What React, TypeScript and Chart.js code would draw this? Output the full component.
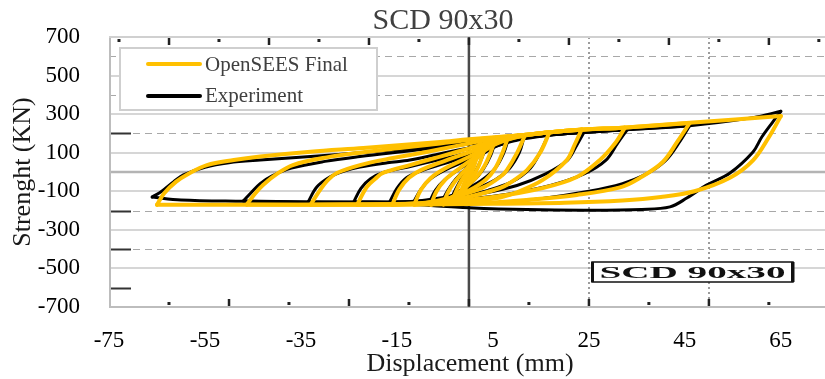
import React, { useEffect, useRef } from "react";
import { Chart, registerables } from "chart.js";

Chart.register(...registerables);

type Pt = [number, number];

// ---------- texts ----------
const chartTitle = "SCD 90x30";
const xAxisTitle = "Displacement (mm)";
const yAxisTitle = "Strenght (KN)";
const simLabel = "OpenSEES Final";
const expLabel = "Experiment";
const boxLabel = "SCD 90x30";

// ---------- axes ----------
const xMin = -75;
const xMax = 74.2;
const yMin = -700;
const yMax = 700;
const xTicks = [-75, -55, -35, -15, 5, 25, 45, 65];
const yTicks = [-700, -500, -300, -100, 100, 300, 500, 700];
const solidGridY = [700, 500, 300, 100, 0, -100, -300, -500];
const dashedGridY = [600, 400, 200, -200, -400];
const darkLeftMarksY = [200, -200, -400, -600];
const dottedGridX = [25, 50];
const topMarkStep = 125 / 12;
const bottomMarkStep = 12.5;

// ---------- OpenSEES Final (model) ----------
const simUp65: Pt[] = [[-65, -170], [-63.5, -110], [-61, -50], [-58.5, -10], [-54.6, 36], [-49, 62], [-43.5, 80], [-33, 105], [-22, 124], [-14, 140], [-6, 156], [0, 170], [8, 185], [12, 193], [17, 206], [24, 220], [32, 230], [46, 255], [65, 290]];
const simDown65: Pt[] = [[65, 290], [62.5, 180], [59.2, 60], [54.4, -30], [47, -100], [40, -130], [32, -148], [20, -160], [5, -165], [-15, -168], [-40, -170], [-65, -170]];
const simUp46: Pt[] = [[-46.3, -169], [-44.5, -110], [-42.9, -67], [-40, -10], [-36.7, 36], [-29.6, 76], [-22.7, 100], [-14.4, 124], [-6, 148], [0, 166], [8, 184], [12, 193], [17, 206], [24, 220], [32, 230], [46, 254]];
const simDown46: Pt[] = [[46, 254], [43.5, 160], [40.4, 52], [35.6, -31], [31.5, -80], [22.5, -119], [12, -145], [5, -158], [-5, -166], [-25, -169], [-46.3, -169]];
const simUp33: Pt[] = [[-33, -170], [-31, -93], [-29.5, -45], [-27.5, -5], [-22.7, 36], [-15.8, 73], [-12.3, 88], [-6, 118], [0, 148], [5, 172], [9, 186], [12, 193], [17, 206], [24, 220], [32.5, 230]];
const simDown33: Pt[] = [[32.5, 230], [30.5, 150], [27.3, 62], [22.5, -26], [15.4, -83], [5, -130], [-5, -155], [-15, -166], [-33, -170]];
const simUp23: Pt[] = [[-23.3, -170], [-21.3, -78], [-19.5, -35], [-17.9, -5], [-12.3, 36], [-6, 80], [0, 122], [5, 158], [9, 182], [12, 193], [17, 206], [23.5, 221]];
const simDown23: Pt[] = [[23.5, 221], [22, 140], [20.4, 62], [15.4, -41], [10, -105], [6.5, -132], [0, -152], [-8, -164], [-23.3, -170]];
const simUp16: Pt[] = [[-16, -170], [-14.5, -90], [-12.5, -30], [-10, 10], [-5, 58], [0, 102], [5, 146], [9, 176], [12, 191], [16.8, 207]];
const simDown16: Pt[] = [[16.8, 207], [14.8, 98], [12.1, 10], [8.5, -57], [6.5, -83], [0, -128], [-8, -157], [-16, -170]];
const simUp12: Pt[] = [[-11.4, -170], [-10, -92], [-8, -32], [-5, 18], [0, 78], [4, 128], [8, 168], [11.7, 192]];
const simDown12: Pt[] = [[11.7, 192], [10, 98], [7.9, 10], [6.5, -26], [3, -80], [-2, -122], [-7, -152], [-11.4, -170]];
const simUp8: Pt[] = [[-7.9, -170], [-6.8, -102], [-5, -42], [-2, 18], [1.5, 80], [4.5, 130], [6.5, 160], [8.2, 184]];
const simDown8: Pt[] = [[8.2, 184], [7, 100], [5.5, 20], [3.5, -40], [0, -96], [-4, -136], [-7.9, -170]];
const simUp6: Pt[] = [[-5.3, -168], [-4.5, -112], [-3, -52], [-0.5, 18], [2, 80], [4, 138], [5.6, 177]];
const simDown6: Pt[] = [[5.6, 177], [4.5, 100], [3.2, 30], [1.5, -30], [-1, -86], [-3.5, -132], [-5.3, -168]];
const simUp4: Pt[] = [[-3.6, -165], [-2.8, -108], [-1.5, -42], [0.5, 30], [2, 100], [3.8, 172]];
const simDown4: Pt[] = [[3.8, 172], [3, 100], [2, 30], [0.5, -40], [-1.5, -100], [-3.6, -165]];
const simUp3: Pt[] = [[-2.3, -160], [-1.5, -90], [0, 0], [1.2, 90], [2.5, 165]];
const simDown3: Pt[] = [[2.5, 165], [1.8, 90], [0.8, 10], [-0.6, -80], [-2.3, -160]];

// ---------- Experiment ----------
const expUp65: Pt[] = [[-66, -130], [-64, -100], [-61.5, -50], [-59.5, -15], [-55, 25], [-50, 48], [-43.5, 62], [-33, 80], [-22.7, 100], [-14, 118], [-5, 140], [0, 152], [8, 172], [17, 193], [24, 207], [31.5, 218], [46, 240], [59.2, 282], [65, 315]];
const expDown65: Pt[] = [[65, 315], [63.3, 259], [61, 180], [59.2, 104], [54.4, -5], [49.6, -67], [45.4, -135], [41.9, -181], [36, -194], [25, -198], [12, -195], [0, -185], [-15, -165], [-33, -157], [-47, -152], [-60, -145], [-66, -130]];
const expUp46: Pt[] = [[-47, -150], [-45.5, -110], [-43.5, -60], [-41, -20], [-37, 20], [-30, 55], [-22.7, 80], [-14, 105], [-5, 130], [0, 145], [8, 170], [17, 192], [24, 205], [32, 218], [46, 240]];
const expDown46: Pt[] = [[46, 240], [44, 160], [41, 60], [37, -10], [32, -60], [25, -100], [15, -138], [5, -160], [-10, -160], [-25, -157], [-40, -153], [-47, -150]];
const expUp33: Pt[] = [[-33.5, -155], [-31.7, -78], [-29, -26], [-26, 5], [-22.7, 26], [-17, 48], [-12.3, 62], [-5, 100], [0, 125], [5, 150], [10, 175], [17, 192], [24, 205], [33, 220]];
const expDown33: Pt[] = [[33, 220], [31, 150], [28.5, 60], [24, -10], [17, -70], [8, -115], [0, -140], [-10, -155], [-20, -156], [-33.5, -155]];
const expUp24: Pt[] = [[-24, -155], [-22.5, -85], [-20.5, -35], [-17.5, 0], [-12, 30], [-6, 65], [0, 100], [5, 135], [10, 168], [16, 190], [24, 206]];
const expDown24: Pt[] = [[24, 206], [22.5, 140], [20.5, 60], [16, -10], [10, -70], [3, -110], [-5, -140], [-14, -155], [-24, -155]];
const expUp16: Pt[] = [[-16.5, -155], [-15, -85], [-13, -30], [-10, 5], [-5, 45], [0, 85], [5, 130], [10, 165], [16.5, 190]];
const expDown16: Pt[] = [[16.5, 190], [15, 110], [12.8, 20], [9, -50], [4, -95], [-2, -130], [-9, -150], [-16.5, -155]];
const expUp12: Pt[] = [[-11.5, -155], [-10, -90], [-8, -35], [-5, 10], [0, 65], [4, 115], [8, 155], [11.5, 182]];
const expDown12: Pt[] = [[11.5, 182], [10.5, 100], [8.5, 20], [5.5, -40], [1, -90], [-4, -125], [-11.5, -155]];
const expUp8: Pt[] = [[-8.2, -155], [-7, -95], [-5, -40], [-2, 15], [1.5, 70], [4.5, 120], [8.2, 170]];
const expDown8: Pt[] = [[8.2, 170], [7.2, 95], [5.5, 20], [2.5, -45], [-1.5, -100], [-5, -135], [-8.2, -155]];
const expUp6: Pt[] = [[-5.6, -150], [-4.5, -100], [-3, -45], [-0.5, 20], [2, 80], [4, 130], [5.6, 165]];
const expDown6: Pt[] = [[5.6, 165], [4.6, 90], [3, 15], [0.8, -50], [-2, -105], [-5.6, -150]];
const expUp4: Pt[] = [[-3.8, -145], [-2.8, -90], [-1.3, -25], [0.5, 40], [2.2, 100], [3.8, 155]];
const expDown4: Pt[] = [[3.8, 155], [2.8, 80], [1.3, 0], [-0.8, -70], [-3.8, -145]];

const simBranches: Pt[][] = [simUp65, simDown65, simUp46, simDown46, simUp33, simDown33, simUp23, simDown23, simUp16, simDown16, simUp12, simDown12, simUp8, simDown8, simUp6, simDown6, simUp4, simDown4, simUp3, simDown3];
const expBranches: Pt[][] = [expUp65, expDown65, expUp46, expDown46, expUp33, expDown33, expUp24, expDown24, expUp16, expDown16, expUp12, expDown12, expUp8, expDown8, expUp6, expDown6, expUp4, expDown4];

const SIM_COLOR = "#FFC000";
const EXP_COLOR = "#000000";
const FONT = '"Liberation Serif", "Times New Roman", serif';

const decorPlugin = {
  id: "decor",
  beforeDatasetsDraw(chart: any) {
    const { ctx, chartArea: a, scales } = chart;
    const xs = scales.x;
    const ys = scales.y;
    const hline = (y: number) => {
      ctx.beginPath();
      ctx.moveTo(a.left, y);
      ctx.lineTo(a.right, y);
      ctx.stroke();
    };
    ctx.save();
    ctx.fillStyle = "#ffffff";
    ctx.fillRect(a.left, a.top, a.right - a.left, a.bottom - a.top);

    // dashed even-hundred lines
    ctx.setLineDash([7, 5]);
    ctx.strokeStyle = "#a8a8a8";
    ctx.lineWidth = 1;
    for (const v of dashedGridY) hline(Math.round(ys.getPixelForValue(v)) + 0.5);
    ctx.setLineDash([]);

    // solid odd-hundred lines
    for (const v of solidGridY) {
      const y = Math.round(ys.getPixelForValue(v));
      ctx.strokeStyle = v === 0 ? "#b4b4b4" : "#d6d6d6";
      ctx.lineWidth = v === 0 ? 2.5 : 2;
      hline(y);
    }

    // short dark marks at left
    ctx.strokeStyle = "#333333";
    ctx.lineWidth = 2;
    for (const v of darkLeftMarksY) {
      const y = Math.round(ys.getPixelForValue(v)) + 0.5;
      ctx.beginPath();
      ctx.moveTo(a.left, y);
      ctx.lineTo(a.left + 22, y);
      ctx.stroke();
    }

    // dotted verticals
    ctx.setLineDash([2, 3]);
    ctx.strokeStyle = "#9c9c9c";
    ctx.lineWidth = 2;
    for (const v of dottedGridX) {
      const x = Math.round(xs.getPixelForValue(v));
      ctx.beginPath();
      ctx.moveTo(x, a.top);
      ctx.lineTo(x, a.bottom);
      ctx.stroke();
    }
    ctx.setLineDash([]);

    // borders
    ctx.strokeStyle = "#bdbdbd";
    ctx.lineWidth = 2;
    ctx.beginPath();
    ctx.moveTo(a.left + 1, a.top);
    ctx.lineTo(a.left + 1, a.bottom);
    ctx.moveTo(a.left, a.bottom);
    ctx.lineTo(a.right, a.bottom);
    ctx.stroke();
    ctx.strokeStyle = "#d0d0d0";
    ctx.beginPath();
    ctx.moveTo(a.left, a.top);
    ctx.lineTo(a.right, a.top);
    ctx.stroke();

    // zero vertical
    const x0 = xs.getPixelForValue(0);
    ctx.strokeStyle = "#4a4a4a";
    ctx.lineWidth = 2.5;
    ctx.beginPath();
    ctx.moveTo(x0, a.top);
    ctx.lineTo(x0, a.bottom);
    ctx.stroke();

    // marks along top and bottom
    ctx.fillStyle = "#222222";
    for (let k = -10; k <= 10; k++) {
      const v = k * topMarkStep;
      if (v < xMin + 0.5 || v > xMax) continue;
      const x = xs.getPixelForValue(v);
      if (k % 2 === 0) ctx.fillRect(x - 1.2, a.top + 1, 2.5, 7);
      else ctx.fillRect(x - 1.5, a.top + 2, 3, 3);
    }
    for (let k = -7; k <= 7; k++) {
      const v = k * bottomMarkStep;
      if (v < xMin + 0.5 || v > xMax) continue;
      const x = xs.getPixelForValue(v);
      if (k % 2 === 0) ctx.fillRect(x - 1.2, a.bottom - 8, 2.5, 7);
      else ctx.fillRect(x - 1.5, a.bottom - 5, 3, 3);
    }
    ctx.restore();
  },
  afterDraw(chart: any) {
    const { ctx, chartArea: a } = chart;
    ctx.save();

    // legend
    const lx = a.left + 11;
    const ly = a.top + 11;
    ctx.fillStyle = "#ffffff";
    ctx.fillRect(lx, ly, 257, 62);
    ctx.strokeStyle = "#cfcfcf";
    ctx.lineWidth = 2;
    ctx.strokeRect(lx, ly, 257, 62);
    ctx.lineCap = "round";
    ctx.lineWidth = 4;
    ctx.strokeStyle = SIM_COLOR;
    ctx.beginPath();
    ctx.moveTo(lx + 28, ly + 16);
    ctx.lineTo(lx + 80, ly + 16);
    ctx.stroke();
    ctx.strokeStyle = EXP_COLOR;
    ctx.beginPath();
    ctx.moveTo(lx + 28, ly + 48);
    ctx.lineTo(lx + 80, ly + 48);
    ctx.stroke();
    ctx.fillStyle = "#404040";
    ctx.font = `21px ${FONT}`;
    ctx.textAlign = "left";
    ctx.textBaseline = "alphabetic";
    ctx.fillText(simLabel, lx + 85, ly + 23);
    ctx.fillText(expLabel, lx + 85, ly + 54);

    // annotation box
    const bx = a.left + 483;
    const by = a.top + 225;
    const bw = 201;
    const bh = 20;
    ctx.fillStyle = "#ffffff";
    ctx.fillRect(bx, by, bw, bh);
    ctx.strokeStyle = "#111111";
    ctx.lineWidth = 1.5;
    ctx.strokeRect(bx, by, bw, bh);
    ctx.fillStyle = "#111111";
    ctx.fillRect(bx - 1, by, 3, bh);
    ctx.fillRect(bx + bw - 2, by, 3.5, bh);
    ctx.font = `bold 16px ${FONT}`;
    const tw = ctx.measureText(boxLabel).width;
    const sx = 186 / tw;
    ctx.save();
    ctx.translate(bx + bw / 2, by + bh / 2 + 6);
    ctx.scale(sx, 1);
    ctx.textAlign = "center";
    ctx.fillText(boxLabel, 0, 0);
    ctx.restore();

    // chart title
    ctx.fillStyle = "#404040";
    ctx.font = `30px ${FONT}`;
    ctx.textAlign = "center";
    ctx.textBaseline = "alphabetic";
    ctx.fillText(chartTitle, 443, 29);

    // axis titles
    ctx.fillStyle = "#1a1a1a";
    ctx.font = `26px ${FONT}`;
    ctx.fillText(xAxisTitle, (a.left + a.right) / 2 + 3, 371);
    ctx.save();
    ctx.translate(30, (a.top + a.bottom) / 2);
    ctx.rotate(-Math.PI / 2);
    ctx.fillText(yAxisTitle, 0, 0);
    ctx.restore();

    ctx.restore();
  },
};

export default function App() {
  const ref = useRef<HTMLCanvasElement>(null);
  useEffect(() => {
    const canvas = ref.current;
    if (!canvas) return;
    const toXY = (pts: Pt[]) => pts.map(([x, y]) => ({ x, y }));
    const lineStyle = {
      showLine: true,
      fill: false,
      pointRadius: 0,
      pointHoverRadius: 0,
      tension: 0.35,
      borderCapStyle: "round" as const,
      borderJoinStyle: "round" as const,
    };
    const datasets: any[] = [
      ...simBranches.map((b, i) => ({
        ...lineStyle,
        label: i === 0 ? simLabel : `${simLabel} ${i}`,
        data: toXY(b),
        borderColor: SIM_COLOR,
        backgroundColor: SIM_COLOR,
        borderWidth: 4,
      })),
      ...expBranches.map((b, i) => ({
        ...lineStyle,
        label: i === 0 ? expLabel : `${expLabel} ${i}`,
        data: toXY(b),
        borderColor: EXP_COLOR,
        backgroundColor: EXP_COLOR,
        borderWidth: 3,
      })),
    ];
    const tickFont = { family: FONT, size: 23 };
    const chart = new Chart(canvas, {
      type: "scatter",
      data: { datasets },
      options: {
        animation: false,
        responsive: false,
        devicePixelRatio: 1,
        layout: { padding: { top: 37, right: 0, bottom: 0, left: 0 } },
        plugins: {
          legend: { display: false },
          tooltip: { enabled: false },
          title: { display: false },
        },
        scales: {
          x: {
            type: "linear",
            min: xMin,
            max: xMax,
            grid: { display: false },
            border: { display: false },
            ticks: { font: tickFont, color: "#000", padding: 12, autoSkip: false, maxRotation: 0 },
            afterBuildTicks: (s: any) => {
              s.ticks = xTicks.map((v) => ({ value: v }));
            },
            afterFit: (s: any) => {
              s.height = 72;
            },
          },
          y: {
            type: "linear",
            min: yMin,
            max: yMax,
            grid: { display: false },
            border: { display: false },
            ticks: { font: tickFont, color: "#000", padding: 21, autoSkip: false },
            afterBuildTicks: (s: any) => {
              s.ticks = yTicks.map((v) => ({ value: v }));
            },
            afterFit: (s: any) => {
              s.width = 109;
            },
          },
        },
      } as any,
      plugins: [decorPlugin],
    });
    return () => chart.destroy();
  }, []);
  return (
    <div style={{ position: "absolute", left: 0, top: 0, width: 825, height: 379, background: "#fff" }}>
      <canvas ref={ref} width={825} height={379} style={{ display: "block" }} />
    </div>
  );
}
